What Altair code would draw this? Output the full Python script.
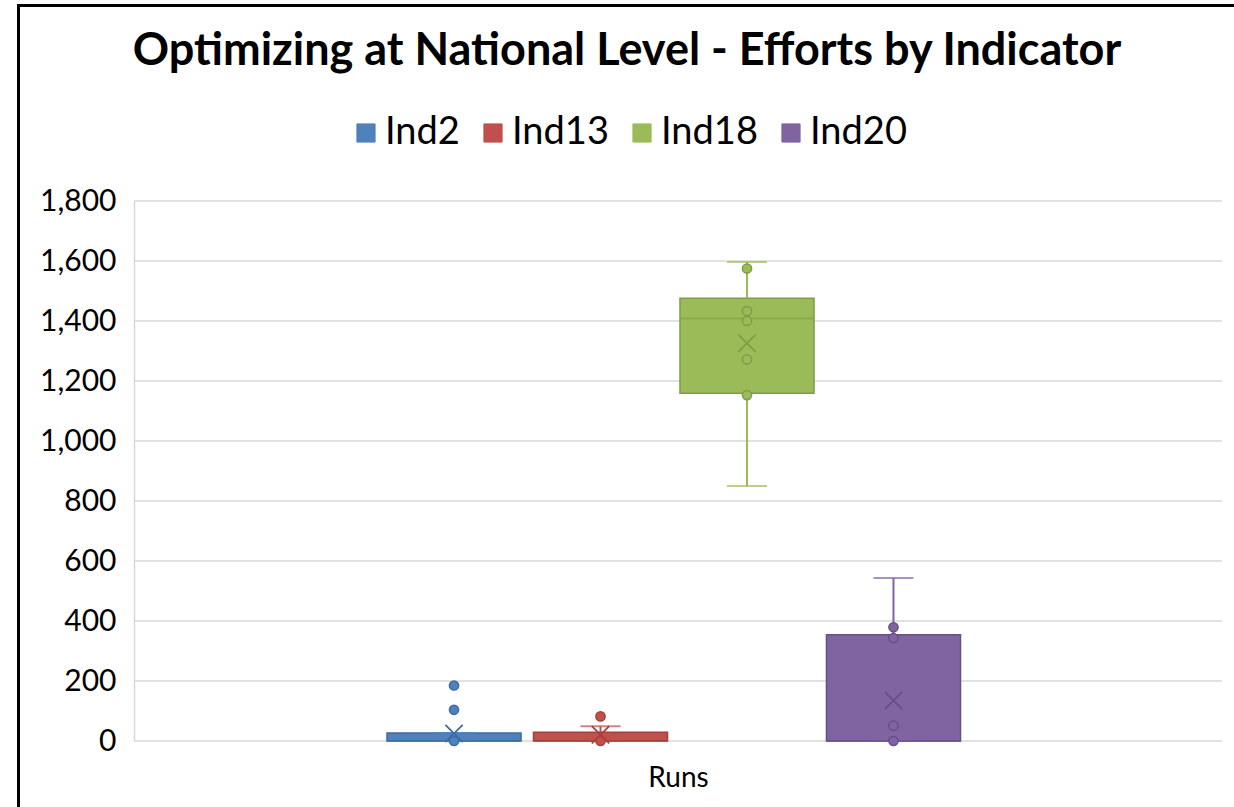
import altair as alt
import pandas as pd

# Box-and-whisker summary for each indicator (effort units)
series = ["Ind2", "Ind13", "Ind18", "Ind20"]
whisker_low = [0, 0, 850, 0]
q1 = [0, 0, 1159, 0]
median = [0, 0, 1408, 0]
q3 = [27, 29, 1476, 354]
whisker_high = [27, 49, 1597, 543]
means = [25, 21, 1326, 135]

# Individual run values shown as dots
pts_ind2 = [185, 104, 0]
pts_ind13 = [82, 0]
pts_ind18 = [1575, 1433, 1400, 1272, 1153]
pts_ind20 = [379, 343, 51, 0]

y_ticks = [0, 200, 400, 600, 800, 1000, 1200, 1400, 1600, 1800]

fill_colors = ["#4F81BD", "#C0504D", "#9BBB59", "#8064A2"]
edge_colors = ["#3D6BA3", "#A5403D", "#7F9D44", "#664F87"]

summary = pd.DataFrame({
    "series": series, "low": whisker_low, "q1": q1, "median": median,
    "q3": q3, "high": whisker_high, "mean": means,
})
points = pd.DataFrame({
    "series": ["Ind2"] * len(pts_ind2) + ["Ind13"] * len(pts_ind13)
    + ["Ind18"] * len(pts_ind18) + ["Ind20"] * len(pts_ind20),
    "value": pts_ind2 + pts_ind13 + pts_ind18 + pts_ind20,
})
grid = pd.DataFrame({"tick": y_ticks})

FONT = "Lato"
W, H = 1088, 540

# Boxes sit in the middle of the single "Runs" category
x_enc = alt.X(
    "series:N", sort=series,
    scale=alt.Scale(range=[253, 826.5], paddingInner=0.085, paddingOuter=0),
    axis=alt.Axis(labels=False, ticks=False, domain=False, grid=False,
                  title="Runs", titleFont=FONT, titleFontSize=28,
                  titleFontWeight="normal", titleColor="#000000", titlePadding=23,
                  titleX=W / 2, titleAnchor="middle"),
)
y_scale = alt.Scale(domain=[0, 1800], nice=False)
y_axis = alt.Axis(values=y_ticks, format=",d", labelFont=FONT, labelFontSize=30,
                  labelColor="#000000", labelPadding=18, ticks=False,
                  domainColor="#d9d9d9", domainWidth=1.5, grid=False, title=None)

color_scale = alt.Scale(domain=series, range=fill_colors)
edge_scale = alt.Scale(domain=series, range=edge_colors)


def yq(field):
    return alt.Y(f"{field}:Q", scale=y_scale, axis=y_axis)


legend = alt.Legend(
    orient="none", legendX=213, legendY=-87, direction="horizontal", title=None,
    symbolType="square", symbolSize=330, symbolStrokeWidth=1,
    labelFont=FONT, labelFontSize=38, labelColor="#000000",
    labelOffset=0, columnPadding=14,
)

# Horizontal gridlines across the whole plot area
gridlines = alt.Chart(grid).mark_rule(color="#d9d9d9", strokeWidth=1.5).encode(
    y=yq("tick"), x=alt.value(0), x2=alt.value(W)
)

boxes = alt.Chart(summary).mark_bar(strokeWidth=1.5).encode(
    x=x_enc, y=yq("q1"), y2="q3",
    color=alt.Color("series:N", scale=color_scale, legend=legend),
    stroke=alt.Stroke("series:N", scale=edge_scale, legend=None),
)

whisker_lo = alt.Chart(summary).mark_rule(strokeWidth=2).encode(
    x=x_enc, y=yq("low"), y2="q1",
    color=alt.Color("series:N", scale=color_scale, legend=None),
)
whisker_hi = alt.Chart(summary).mark_rule(strokeWidth=2).encode(
    x=x_enc, y=yq("q3"), y2="high",
    color=alt.Color("series:N", scale=color_scale, legend=None),
)
cap_lo = alt.Chart(summary).mark_tick(size=40, thickness=2).encode(
    x=x_enc, y=yq("low"),
    color=alt.Color("series:N", scale=color_scale, legend=None),
)
cap_hi = alt.Chart(summary).mark_tick(size=40, thickness=2).encode(
    x=x_enc, y=yq("high"),
    color=alt.Color("series:N", scale=color_scale, legend=None),
)
median_line = alt.Chart(summary).mark_tick(size=134, thickness=1.5).encode(
    x=x_enc, y=yq("median"),
    fill=alt.Fill("series:N", scale=edge_scale, legend=None),
)
dots = alt.Chart(points).mark_circle(size=85, opacity=1, strokeWidth=1.5).encode(
    x=x_enc, y=yq("value"),
    color=alt.Color("series:N", scale=color_scale, legend=None),
    stroke=alt.Stroke("series:N", scale=edge_scale, legend=None),
)
mean_x = alt.Chart(summary).mark_point(
    shape="M-1,-1L1,1M1,-1L-1,1", size=300, filled=False, strokeWidth=1.8, opacity=1
).encode(
    x=x_enc, y=yq("mean"),
    stroke=alt.Stroke("series:N", scale=edge_scale, legend=None),
)

# Chart-area frame lines (left and top edges)
frame_left = alt.Chart(summary).mark_rule(color="#000000", strokeWidth=3).encode(
    x=alt.value(-115.5), y=alt.value(-196), y2=alt.value(606)
)
frame_top = alt.Chart(summary).mark_rule(color="#000000", strokeWidth=3).encode(
    x=alt.value(-117), x2=alt.value(1100), y=alt.value(-195.5)
)

chart = alt.layer(
    gridlines, boxes, whisker_lo, whisker_hi, cap_lo, cap_hi, median_line, dots,
    mean_x, frame_left, frame_top,
).properties(
    width=W, height=H,
    title=alt.TitleParams(
        "Optimizing at National Level - Efforts by Indicator",
        font=FONT, fontSize=45, fontWeight="bold", color="#000000",
        anchor="middle", dx=-51, dy=106, offset=0, baseline="alphabetic",
    ),
    autosize=alt.AutoSizeParams(type="none"),
    padding={"left": 134, "top": 201, "right": 12, "bottom": 66},
).configure_view(strokeWidth=0)

chart.save("out.html", embed_options={"renderer": "svg", "actions": False})
